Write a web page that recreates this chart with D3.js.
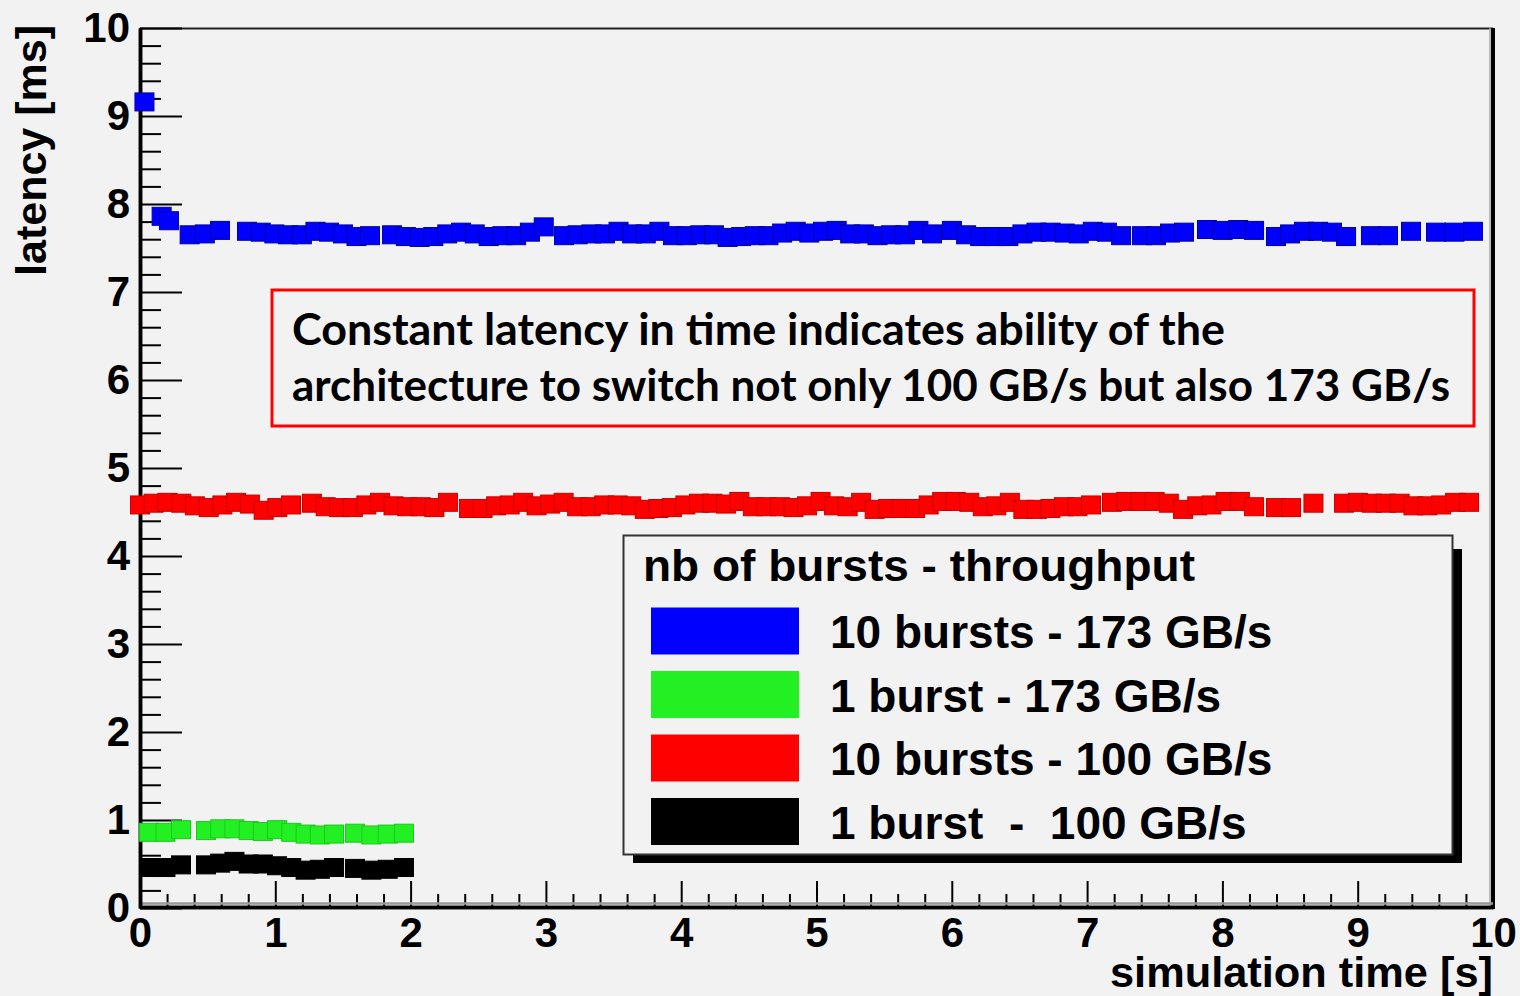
<!DOCTYPE html>
<html><head><meta charset="utf-8">
<script src="https://cdn.jsdelivr.net/npm/d3@7"></script>
<style>
html,body{margin:0;padding:0;background:#f2f2f2;}
svg{display:block;}
</style></head><body>
<svg id="chart" width="1520" height="996"></svg>
<script>
// ---------- data ----------
const xTicks = [0,1,2,3,4,5,6,7,8,9,10];
const yTicks = [0,1,2,3,4,5,6,7,8,9,10];

const blueT = [0.033,0.160,0.214,0.367,0.479,0.591,
0.791,0.892,0.993,1.094,1.196,1.297,1.397,1.500,1.600,1.700,
1.863,1.965,2.067,2.168,2.271,2.373,2.474,2.577,2.678,2.780,2.882,2.984,
3.134,3.234,3.336,3.436,3.537,3.638,3.738,3.839,3.939,4.041,4.141,4.242,4.343,4.443,4.544,4.645,4.746,4.846,4.947,5.048,5.149,5.249,5.350,5.451,5.551,5.653,5.753,5.854,
6.001,6.106,6.210,6.313,6.418,6.522,6.626,6.730,6.834,6.938,7.042,7.146,7.251,
7.406,7.509,7.613,7.716,
7.886,8.002,8.117,8.234,
8.396,8.500,8.603,8.707,8.810,8.914,
9.098,9.224,
9.394,
9.579,9.715,9.852];
const blueV = [9.16,7.86,7.81,7.65,7.66,7.70,
7.69,7.68,7.66,7.65,7.65,7.69,7.68,7.66,7.63,7.64,
7.65,7.63,7.62,7.63,7.66,7.68,7.66,7.63,7.64,7.64,7.68,7.74,
7.64,7.65,7.66,7.66,7.69,7.66,7.66,7.69,7.64,7.64,7.65,7.65,7.62,7.63,7.64,7.64,7.67,7.69,7.67,7.69,7.70,7.66,7.66,7.64,7.65,7.65,7.70,7.66,
7.70,7.65,7.63,7.63,7.63,7.66,7.68,7.68,7.67,7.66,7.69,7.68,7.64,
7.64,7.64,7.67,7.68,
7.71,7.70,7.71,7.70,
7.63,7.66,7.69,7.69,7.68,7.63,
7.64,7.64,
7.69,
7.68,7.68,7.69];

const redT = [0.000,0.101,0.203,0.305,0.406,0.508,0.609,0.710,0.812,0.914,1.015,1.116,
1.271,1.372,1.472,1.573,1.673,1.774,1.874,1.975,2.075,2.176,2.276,
2.432,2.532,2.632,2.732,2.832,2.931,3.031,3.131,3.231,3.331,3.431,3.531,3.631,3.731,3.831,3.931,4.031,4.131,4.231,4.331,4.430,4.530,4.630,4.730,4.830,4.930,5.030,5.130,5.230,5.330,5.430,5.530,5.630,5.729,5.829,5.929,6.029,6.129,6.229,6.329,6.429,6.529,6.629,6.729,6.829,6.929,7.029,
7.184,7.289,7.394,7.499,7.604,7.709,7.814,7.919,8.024,8.129,8.234,
8.396,8.507,
8.673,
8.899,9.001,9.104,9.207,9.310,9.412,9.514,9.617,9.720,9.823];
const redV = [4.58,4.60,4.61,4.60,4.57,4.55,4.58,4.61,4.59,4.52,4.55,4.58,
4.60,4.56,4.55,4.55,4.58,4.61,4.57,4.56,4.56,4.55,4.61,
4.54,4.54,4.57,4.58,4.61,4.57,4.59,4.61,4.56,4.56,4.58,4.58,4.57,4.53,4.54,4.55,4.58,4.60,4.60,4.59,4.62,4.56,4.56,4.56,4.55,4.57,4.62,4.57,4.56,4.61,4.53,4.54,4.54,4.54,4.58,4.62,4.62,4.61,4.56,4.57,4.61,4.53,4.53,4.54,4.56,4.56,4.58,
4.61,4.62,4.62,4.62,4.60,4.53,4.57,4.58,4.62,4.62,4.56,
4.55,4.55,
4.60,
4.60,4.61,4.60,4.60,4.60,4.57,4.57,4.58,4.61,4.61];

const shortT = [0.067,0.188,0.303,0.488,0.593,0.698,0.803,0.908,1.013,1.118,1.224,1.329,1.434,1.589,1.710,1.831,1.951];
const greenV = [0.86,0.86,0.89,0.88,0.90,0.90,0.88,0.87,0.89,0.86,0.84,0.83,0.84,0.85,0.83,0.84,0.85];
const blackV = [0.46,0.46,0.49,0.49,0.51,0.53,0.50,0.50,0.48,0.46,0.43,0.44,0.46,0.45,0.43,0.44,0.46];

const legendTitle = "nb of bursts - throughput";
const legendLabels = ["10 bursts - 173 GB/s", "1 burst - 173 GB/s", "10 bursts - 100 GB/s", "1 burst  -  100 GB/s"];
const seriesColors = ["#0000ff", "#22f022", "#ff0000", "#000000"];
const seriesStroke = ["#0000a0", "#1cc81c", "#c80000", "#000000"];
const noteLines = ["Constant latency in time indicates ability of the",
                   "architecture to switch not only 100 GB/s but also 173 GB/s"];
const xTitle = "simulation time [s]";
const yTitle = "latency [ms]";

// ---------- chart ----------
const svg = d3.select("#chart");
svg.append("rect").attr("width",1520).attr("height",996).attr("fill","#f2f2f2");

const x = d3.scaleLinear().domain([0,10]).range([140,1493]);
const y = d3.scaleLinear().domain([0,10]).range([908,28]);

const minorX = d3.range(0,10.001,0.2).filter(v => Math.abs(v-Math.round(v))>1e-6);
const minorY = minorX;

const helv = "'Liberation Sans', Arial, Helvetica, sans-serif";

// frame top and right
svg.append("line").attr("x1",140).attr("x2",1493).attr("y1",28.5).attr("y2",28.5)
  .attr("stroke","#222").attr("stroke-width",2);
svg.append("line").attr("x1",1490).attr("x2",1490).attr("y1",28).attr("y2",908)
  .attr("stroke","#aaa").attr("stroke-width",1.5);
svg.append("line").attr("x1",1493).attr("x2",1493).attr("y1",28).attr("y2",909)
  .attr("stroke","#000").attr("stroke-width",4);

// x axis
const gxMinor = svg.append("g").attr("transform","translate(0,907)")
  .call(d3.axisBottom(x).tickValues(minorX).tickSizeInner(-13).tickSizeOuter(0).tickFormat(""));
const gx = svg.append("g").attr("transform","translate(0,907)")
  .call(d3.axisBottom(x).tickValues(xTicks).tickSizeInner(-26).tickSizeOuter(0).tickPadding(10).tickFormat(d3.format("d")));
svg.append("line").attr("x1",140).attr("x2",1493).attr("y1",903.5).attr("y2",903.5)
  .attr("stroke","#999").attr("stroke-width",2.5);

// y axis
const gyMinor = svg.append("g").attr("transform","translate(140,0)")
  .call(d3.axisLeft(y).tickValues(minorY).tickSizeInner(-21).tickSizeOuter(0).tickFormat(""));
const gy = svg.append("g").attr("transform","translate(140,0)")
  .call(d3.axisLeft(y).tickValues(yTicks).tickSizeInner(-42).tickSizeOuter(0).tickPadding(10).tickFormat(d3.format("d")));

[gx,gxMinor,gy,gyMinor].forEach(g => {
  g.selectAll(".tick line").attr("stroke","#000").attr("stroke-width",2);
  g.select(".domain").attr("stroke","#000").attr("stroke-width",3.5);
  g.selectAll("text").attr("fill","#000").attr("font-family",helv)
    .attr("font-weight","bold").attr("font-size",42);
});

// axis titles
svg.append("text").attr("transform","translate(46,25) rotate(-90)")
  .attr("text-anchor","end").attr("font-family",helv).attr("font-weight","bold")
  .attr("font-size",43).attr("fill","#000").text(yTitle);
svg.append("text").attr("x",1493).attr("y",987)
  .attr("text-anchor","end").attr("font-family",helv).attr("font-weight","bold")
  .attr("font-size",42).attr("fill","#000")
  .attr("textLength",383).attr("lengthAdjust","spacingAndGlyphs").text(xTitle);

// markers
const series = [
  {t: redT, v: redV, c: 2},
  {t: blueT, v: blueV, c: 0},
  {t: shortT, v: greenV, c: 1},
  {t: shortT, v: blackV, c: 3}
];
const MW = 19, MH = 18;
series.forEach(s => {
  svg.append("g").selectAll("rect")
    .data(s.t.map((t,i) => [t, s.v[i]]))
    .join("rect")
    .attr("x", d => x(d[0]) - MW/2)
    .attr("y", d => y(d[1]) - MH/2)
    .attr("width", MW).attr("height", MH)
    .attr("fill", seriesColors[s.c])
    .attr("stroke", seriesStroke[s.c]).attr("stroke-width", 1);
});

// annotation box
svg.append("rect").attr("x",272).attr("y",290).attr("width",1202).attr("height",136)
  .attr("fill","none").attr("stroke","#ff0000").attr("stroke-width",3);
const noteWidths = [933, 1158];
noteLines.forEach((line,i) => {
  svg.append("text").attr("x",292).attr("y",345 + i*56)
    .attr("font-family","Lato, 'Open Sans', sans-serif").attr("font-weight","bold")
    .attr("font-size",43).attr("fill","#000")
    .attr("textLength", noteWidths[i]).attr("lengthAdjust","spacingAndGlyphs")
    .text(line);
});

// legend
const lg = svg.append("g");
lg.append("rect").attr("x",1453).attr("y",549).attr("width",9).attr("height",314).attr("fill","#000");
lg.append("rect").attr("x",633).attr("y",855).attr("width",829).attr("height",8).attr("fill","#000");
lg.append("rect").attr("x",623.5).attr("y",535.5).attr("width",829).attr("height",319)
  .attr("fill","#f2f2f2").attr("stroke","#333").attr("stroke-width",2);
lg.append("text").attr("x",643).attr("y",581).attr("font-family",helv).attr("font-weight","bold")
  .attr("font-size",45).attr("fill","#000")
  .attr("textLength",552).attr("lengthAdjust","spacingAndGlyphs").text(legendTitle);
legendLabels.forEach((lab,i) => {
  const cy = 631 + i*63.5;
  lg.append("rect").attr("x",651).attr("y",cy-23.5).attr("width",148).attr("height",47)
    .attr("fill",seriesColors[i]);
  lg.append("text").attr("x",830).attr("y",cy+17).attr("font-family",helv).attr("font-weight","bold")
    .attr("font-size",46).attr("fill","#000").style("white-space","pre").text(lab);
});
</script>
</body></html>
